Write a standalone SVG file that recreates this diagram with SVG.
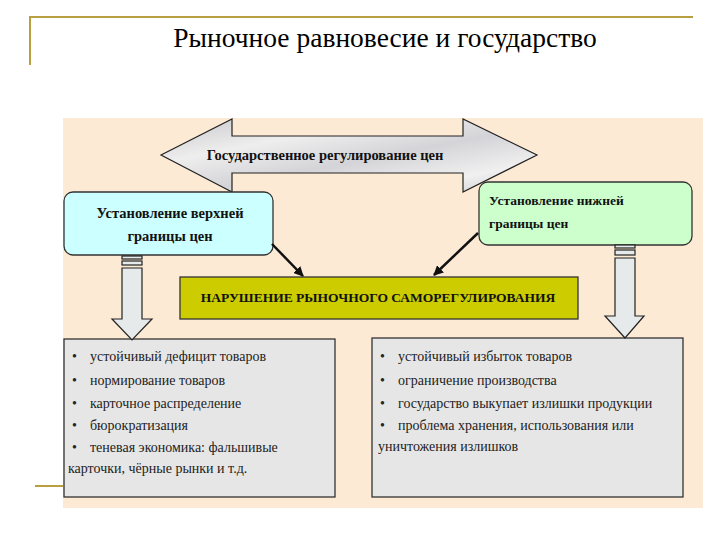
<svg xmlns="http://www.w3.org/2000/svg" width="720" height="540" viewBox="0 0 720 540">
<defs>
<style>
text{font-family:"Liberation Serif","DejaVu Serif","Times New Roman",serif}
.title{font-size:27.5px;fill:#000}
.bold{font-weight:bold;font-size:13.5px;fill:#111}
.body{font-size:14px;fill:#222}
.gold{stroke:#B8A040;stroke-width:2;fill:none}
.box{stroke:#333;stroke-width:1.3}
.blk{fill:#E6EAEA;stroke:#222;stroke-width:1.2}
.conn{stroke:#111;stroke-width:2.5;fill:none}
</style>
<linearGradient id="marble" x1="0" y1="0" x2="1" y2="1">
<stop offset="0" stop-color="#C8C8CC"/>
<stop offset="0.3" stop-color="#EEEEEE"/>
<stop offset="0.55" stop-color="#D4D4D8"/>
<stop offset="0.8" stop-color="#F0F0F0"/>
<stop offset="1" stop-color="#CCCCCC"/>
</linearGradient>
<marker id="ah" viewBox="0 0 10 10" refX="9" refY="5" markerWidth="4" markerHeight="4" orient="auto">
<path d="M0,0 L10,5 L0,10 z" fill="#111"/>
</marker>
</defs>
<rect width="720" height="540" fill="#fff"/>
<path class="gold" d="M30,65 V17 H693"/>
<line x1="35" y1="486" x2="64" y2="486" class="gold"/>
<text class="title" x="385" y="47" text-anchor="middle">Рыночное равновесие и государство</text>
<rect x="63" y="118" width="640" height="390" fill="#FDEAD4"/>

<g id="double-arrow">
<path d="M161,155 L232,119 L232,136 L463,136 L463,119 L537,155 L463,192 L463,173 L232,173 L232,192 Z" fill="url(#marble)" stroke="#222" stroke-width="1.2"/>
<text class="bold" x="325" y="160" text-anchor="middle" style="font-size:14.5px">Государственное регулирование цен</text>
</g>

<g id="upper-limit">
<rect x="64" y="192" width="209" height="63" rx="9" fill="#CCFFFF" class="box"/>
<text class="bold" x="170" y="218" text-anchor="middle" style="font-size:14.5px">Установление верхней</text>
<text class="bold" x="170" y="241" text-anchor="middle" style="font-size:14.5px">границы цен</text>
</g>

<g id="lower-limit">
<rect x="479" y="182" width="213" height="63" rx="9" fill="#CCFFCC" class="box"/>
<text class="bold" x="489" y="205">Установление нижней</text>
<text class="bold" x="489" y="228">границы цен</text>
</g>

<g id="violation">
<rect x="180" y="277" width="398" height="42" fill="#CCCC00" class="box"/>
<text class="bold" x="378" y="302" text-anchor="middle">НАРУШЕНИЕ РЫНОЧНОГО САМОРЕГУЛИРОВАНИЯ</text>
</g>

<g id="deficit">
<rect x="64" y="339" width="271" height="158" fill="#E6E6E6" class="box"/>
<g class="body">
<text x="72" y="361">•</text><text x="90" y="361">устойчивый дефицит товаров</text>
<text x="72" y="385">•</text><text x="90" y="385">нормирование товаров</text>
<text x="72" y="408">•</text><text x="90" y="408">карточное распределение</text>
<text x="72" y="430">•</text><text x="90" y="430">бюрократизация</text>
<text x="72" y="452">•</text><text x="90" y="452">теневая экономика: фальшивые</text>
<text x="68" y="473">карточки, чёрные рынки и т.д.</text>
</g>
</g>

<g id="surplus">
<rect x="372" y="338" width="311" height="159" fill="#E6E6E6" class="box"/>
<g class="body">
<text x="380" y="361">•</text><text x="398" y="361">устойчивый избыток товаров</text>
<text x="380" y="385">•</text><text x="398" y="385">ограничение производства</text>
<text x="380" y="408">•</text><text x="398" y="408">государство выкупает излишки продукции</text>
<text x="380" y="430">•</text><text x="398" y="430">проблема хранения, использования или</text>
<text x="378" y="451">уничтожения излишков</text>
</g>
</g>

<g id="connectors">
<line class="conn" x1="272" y1="244" x2="303" y2="276" marker-end="url(#ah)"/>
<line class="conn" x1="478" y1="233" x2="434" y2="275" marker-end="url(#ah)"/>
<rect x="122" y="256" width="20" height="3" class="blk"/>
<rect x="122" y="261" width="20" height="4" class="blk"/>
<path d="M122,268 H142 V319 H152 L132,340 L112,319 H122 Z" class="blk"/>
<rect x="615" y="245" width="20" height="3" class="blk"/>
<rect x="615" y="250" width="20" height="5" class="blk"/>
<path d="M615,258 H635 V316 H644 L625,338 L605,316 H615 Z" class="blk"/>
</g>
</svg>
